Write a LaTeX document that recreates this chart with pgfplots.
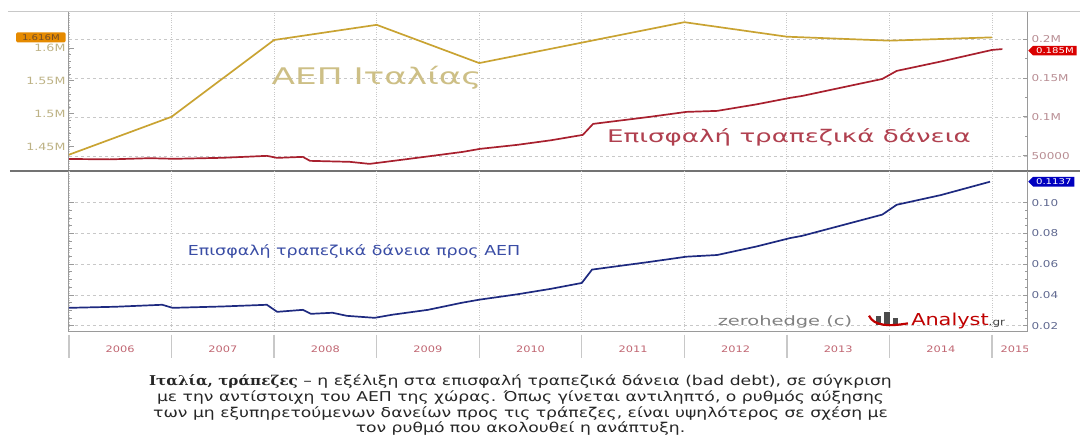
\documentclass[border=0pt]{standalone}
\usepackage{fontspec}
\setmainfont{DejaVu Sans}
\newfontfamily\widefont{DejaVu Sans}[FakeStretch=1.27]
\newfontfamily\xwidefont{DejaVu Sans}[FakeStretch=1.5]
\newfontfamily\capserif{DejaVu Serif}[FakeStretch=1.12]
\usepackage{pgfplots}
\pgfplotsset{compat=1.18}
\usetikzlibrary{shapes.symbols}

\definecolor{gdpline}{HTML}{C9A332}
\definecolor{debtline}{HTML}{A8202E}
\definecolor{ratioline}{HTML}{1E2A80}
\definecolor{gdptext}{HTML}{CDBF86}
\definecolor{debttext}{HTML}{B0404F}
\definecolor{ratiotext}{HTML}{3A4DA5}
\definecolor{gridgray}{HTML}{C8C8C8}
\definecolor{axgray}{HTML}{9A9A9A}

\pgfplotsset{
  panel/.style={
    scale only axis, width=960bp, clip=false,
    xmin=2006, xmax=2015.35,
    axis line style={draw=none},
    xtick={2006,2007,...,2015}, xticklabels={},
    x tick style={draw=none},
    xmajorgrids,
    major x grid style={gridgray, dotted, line width=0.8pt},
    major y grid style={gridgray, dash pattern=on 3pt off 3pt, line width=0.6pt},
    y tick style={axgray, line width=0.8pt},
    major tick length=5bp, minor tick length=2.5bp,
    /pgf/number format/assume math mode=true,
    tick label style={font=\widefont\fontsize{9.5}{10}\selectfont},
  },
}

\begin{document}
\begin{tikzpicture}[x=1bp,y=1bp]
\path (0,0) rectangle (1081,445);

% top border
\draw[gridgray, line width=1bp] (8,433) -- (1081,433);

% ---- top panel, right axis: bad debt
\begin{axis}[panel, at={(69bp,274bp)}, anchor=south west, height=159bp,
  ymin=0.0308, ymax=0.2346,
  ytick={0.05,0.1,0.15,0.2}, yticklabels={50000,0.1M,0.15M,0.2M},
  ytick pos=right, yticklabel pos=right,
  ymajorgrids,
  yticklabel style={text=debttext!55!gray!70},
  minor y tick num=1]
  \draw[axgray, line width=1bp] (rel axis cs:1,0) -- (rel axis cs:1,1);
  \addplot[debtline, line width=1.7bp, no marks] coordinates {
    (2006.00,0.0460) (2006.40,0.0455) (2006.79,0.0470) (2007.03,0.0462)
    (2007.50,0.0475) (2007.93,0.0500) (2008.03,0.0474) (2008.28,0.0487)
    (2008.35,0.0436) (2008.74,0.0423) (2008.93,0.0397) (2009.01,0.0410)
    (2009.39,0.0474) (2009.84,0.0551) (2010.01,0.0590) (2010.37,0.0641)
    (2010.70,0.0700) (2011.01,0.0769) (2011.11,0.0910) (2011.66,0.1000)
    (2012.02,0.1064) (2012.32,0.1077) (2012.70,0.1160) (2013.03,0.1244)
    (2013.15,0.1269) (2013.93,0.1487) (2014.07,0.1590) (2014.50,0.1710)
    (2015.00,0.1859) (2015.10,0.1870)
  };
  \node[signal, signal to=west, fill=red!85!black, text=white, inner xsep=3bp,
        inner ysep=1.8bp, anchor=west, font=\widefont\fontsize{8}{8}\selectfont]
        at (axis cs:2015.35,0.185) {0.185M};
  \node[debttext, anchor=center, font=\xwidefont\fontsize{17.5}{19}\selectfont]
        at (axis cs:2013.02,0.0735) {Επισφαλή τραπεζικά δάνεια};
\end{axis}

% ---- top panel, left axis: GDP
\begin{axis}[panel, at={(69bp,274bp)}, anchor=south west, height=159bp,
  ymin=1.4136, ymax=1.6545,
  ytick={1.45,1.5,1.55,1.6}, yticklabels={1.45M,1.5M,1.55M,1.6M},
  ytick pos=left, yticklabel pos=left,
  xmajorgrids=false,
  yticklabel style={text=gdptext!80!gray, font=\widefont\fontsize{10}{10}\selectfont},
  minor y tick num=4]
  \draw[axgray, line width=1bp] (rel axis cs:0,0) -- (rel axis cs:0,1);
  \addplot[gdpline, line width=1.7bp, no marks] coordinates {
    (2006,1.4380) (2007,1.4955) (2008,1.6120) (2009,1.6350) (2010,1.5770)
    (2011,1.6080) (2012,1.6390) (2013,1.6170) (2014,1.6110) (2015,1.6160)
  };
  \node[fill=orange!80!yellow!90!black, text=brown!60!black, rounded corners=1.5bp,
        inner xsep=6bp, inner ysep=2bp, anchor=east,
        font=\widefont\fontsize{8}{8}\selectfont]
        at (axis cs:2006,1.616) [xshift=-3bp] {1.616M};
  \node[gdptext, font=\xwidefont\fontsize{23}{25}\selectfont]
        at (axis cs:2009.0,1.5540) {ΑΕΠ Ιταλίας};
\end{axis}

\draw[black!55, line width=2.2bp] (10,274) -- (1081,274);

% ---- bottom panel: ratio
\begin{axis}[panel, at={(69bp,113bp)}, anchor=south west, height=161bp,
  ymin=0.0161, ymax=0.1208,
  ytick={0.02,0.04,0.06,0.08,0.10}, yticklabels={0.02,0.04,0.06,0.08,0.10},
  ytick pos=both, yticklabel pos=right,
  ymajorgrids,
  yticklabel style={text=ratiotext!45!gray},
  minor y tick num=3,
  minor xtick={2006,2006.25,...,2015.25},
  minor x tick style={axgray, line width=0.8pt},
  minor tick length=3bp]
  \draw[axgray, line width=1bp] (rel axis cs:1,0) -- (rel axis cs:1,1);
  \draw[axgray, line width=1bp] (rel axis cs:0,0) -- (rel axis cs:0,1);
  \draw[axgray, line width=1bp] (rel axis cs:0,0) -- (rel axis cs:1,0);
  \addplot[ratioline, line width=1.7bp, no marks] coordinates {
    (2006.00,0.0316) (2006.45,0.0323) (2006.91,0.0336) (2007.01,0.0316)
    (2007.50,0.0325) (2007.93,0.0336) (2008.03,0.0290) (2008.28,0.0303)
    (2008.36,0.0277) (2008.57,0.0284) (2008.71,0.0264) (2008.98,0.0251)
    (2009.15,0.0271) (2009.50,0.0303) (2009.83,0.0349) (2010.00,0.0369)
    (2010.37,0.0404) (2010.70,0.0440) (2011.00,0.0478) (2011.10,0.0565)
    (2011.66,0.0615) (2012.02,0.0649) (2012.32,0.0660) (2012.70,0.0715)
    (2013.03,0.0770) (2013.15,0.0785) (2013.93,0.0923) (2014.07,0.0987)
    (2014.50,0.1050) (2014.98,0.1137)
  };
  \node[signal, signal to=west, fill=blue!75!black, text=white, inner xsep=3bp,
        inner ysep=1.8bp, anchor=west, font=\widefont\fontsize{8}{8}\selectfont]
        at (axis cs:2015.35,0.1137) {0.1137};
  \node[ratiotext, font=\widefont\fontsize{13.8}{15}\selectfont]
        at (axis cs:2008.78,0.0682) {Επισφαλή τραπεζικά δάνεια προς ΑΕΠ};
  \node[black!50, anchor=east, font=\xwidefont\fontsize{13}{14}\selectfont]
        at (axis cs:2013.67,0.0225) {zerohedge (c)};
  % small logo
  \fill[black!70] (axis cs:2013.87,0.0205) rectangle (axis cs:2013.92,0.0260);
  \fill[black!70] (axis cs:2013.95,0.0205) rectangle (axis cs:2014.00,0.0290);
  \fill[black!70] (axis cs:2014.03,0.0205) rectangle (axis cs:2014.08,0.0250);
  \draw[red!75!black, line width=2.2bp] (axis cs:2013.80,0.0265) .. controls (axis cs:2013.85,0.0195) and (axis cs:2014.00,0.0195) .. (axis cs:2014.18,0.0215);
  \node[red!75!black, anchor=west, inner sep=0pt, font=\widefont\fontsize{16.5}{18}\selectfont]
        at (axis cs:2014.21,0.0232) {Analyst\textcolor{black!75}{\fontsize{9.5}{10}\selectfont.gr}};
  % year band
  \pgfplotsinvokeforeach{2006,...,2015}{
    \draw[gridgray, line width=1.2bp] ([yshift=-3bp]axis cs:#1,0.0161) -- ([yshift=-26bp]axis cs:#1,0.0161);
  }
  \pgfplotsinvokeforeach{2006,...,2014}{
    \node[debttext!80, font=\widefont\fontsize{9}{9}\selectfont]
          at ([yshift=-18bp]axis cs:#1.5,0.0161) {#1};
  }
  \begin{scope}
    \clip (axis cs:2015,0.0) rectangle (axis cs:2015.35,0.0161);
    \node[debttext!80, anchor=west, font=\widefont\fontsize{9}{9}\selectfont]
          at ([yshift=-18bp]axis cs:2015.05,0.0161) {2015};
  \end{scope}
\end{axis}

% caption
\begin{scope}[font=\widefont\fontsize{13.6}{15}\selectfont, text=black!85]
  \node at (521,63) {{\capserif\bfseries Ιταλία, τράπεζες} – η εξέλιξη στα επισφαλή τραπεζικά δάνεια (bad debt), σε σύγκριση};
  \node at (521,47) {με την αντίστοιχη του ΑΕΠ της χώρας. Όπως γίνεται αντιληπτό, ο ρυθμός αύξησης};
  \node at (521,31) {των μη εξυπηρετούμενων δανείων προς τις τράπεζες, είναι υψηλότερος σε σχέση με};
  \node at (521,16) {τον ρυθμό που ακολουθεί η ανάπτυξη.};
\end{scope}
\end{tikzpicture}
\end{document}
